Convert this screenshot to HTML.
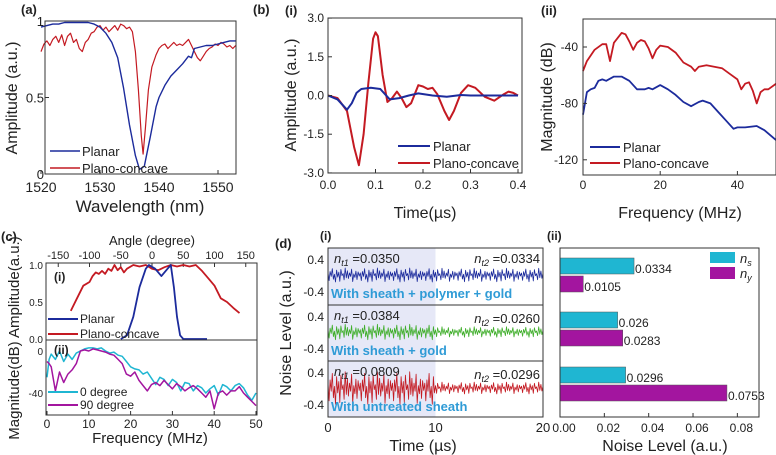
<!DOCTYPE html>
<html><head><meta charset="utf-8">
<style>
body{margin:0;background:#fff;}
svg{display:block;font-family:"Liberation Sans",Arial,sans-serif;}
</style></head>
<body>
<svg id="fig" width="776" height="455" viewBox="0 0 776 455" xmlns="http://www.w3.org/2000/svg">
<rect width="776" height="455" fill="#fff"/>
<g id="static"></g>
</svg>
<script>
// ---- data: panel (a)
const aWlBlue=[1520,1521,1522,1523,1524,1525,1526,1527,1528,1529,1530,1531,1532,1533,1534,1535,1536,1536.7,1537.5,1538.5,1539.5,1540,1541,1542,1543,1544,1545,1545.5,1546,1547,1548,1549,1550,1551,1552,1553];
const aPlanar=[0.96,0.97,0.98,0.98,0.99,0.99,0.99,0.99,0.99,0.98,0.96,0.92,0.86,0.76,0.56,0.32,0.12,0.03,0.05,0.24,0.44,0.5,0.58,0.64,0.68,0.72,0.77,0.76,0.82,0.83,0.84,0.84,0.85,0.86,0.87,0.87];
const aWlRed=[1520,1520.5,1521,1521.5,1522,1522.5,1523,1523.5,1524,1524.5,1525,1525.5,1526,1526.5,1527,1527.5,1528,1528.5,1529,1529.5,1530,1530.5,1531,1531.5,1532,1532.5,1533,1533.5,1534,1534.5,1535,1535.5,1536,1536.5,1537,1537.3,1537.7,1538.2,1538.8,1539.5,1540,1540.5,1541,1541.5,1542,1542.5,1543,1543.5,1544,1544.5,1545,1545.5,1546,1546.5,1547,1547.5,1548,1548.5,1549,1549.5,1550,1550.5,1551,1551.5,1552,1552.5,1553];
const aConcave=[0.8,0.85,0.87,0.84,0.88,0.9,0.86,0.91,0.84,0.9,0.92,0.86,0.88,0.82,0.8,0.86,0.88,0.92,0.93,0.96,0.97,0.94,0.96,0.93,0.95,0.97,0.94,0.98,0.97,0.95,0.96,0.93,0.8,0.55,0.25,0.13,0.3,0.55,0.7,0.78,0.82,0.84,0.85,0.82,0.84,0.86,0.84,0.85,0.84,0.86,0.88,0.84,0.8,0.76,0.74,0.77,0.8,0.82,0.83,0.85,0.84,0.86,0.85,0.83,0.84,0.82,0.84];
// ---- panel (b)(i)
const bTimeRed=[0,0.02,0.04,0.055,0.065,0.075,0.085,0.095,0.1,0.105,0.115,0.125,0.135,0.145,0.155,0.165,0.175,0.19,0.2,0.21,0.22,0.23,0.245,0.255,0.265,0.28,0.295,0.31,0.33,0.35,0.37,0.38,0.39,0.4];
const bConcave=[0,-0.1,-0.6,-2.0,-2.7,-1.5,0.5,2.2,2.45,2.3,0.8,-0.25,-0.1,0.15,-0.1,-0.45,-0.3,0.4,0.35,0.25,0.3,0.05,-0.6,-0.95,-0.6,0.1,0.4,0.3,-0.05,-0.2,0.05,0.15,0.1,0];
const bTimeBlue=[0,0.02,0.04,0.05,0.06,0.07,0.09,0.11,0.12,0.13,0.15,0.17,0.19,0.22,0.25,0.28,0.3,0.4];
const bPlanar=[0,-0.15,-0.55,-0.3,0.1,0.25,0.3,0.25,0.05,-0.15,-0.1,0,0.08,0,-0.05,0.02,0,0];
// ---- panel (b)(ii)
const bFreqRed=[0,1,3,5,6,7,8,10,11,12,13,14,15,16,17,18,19,20,22,24,26,28,29,30,32,34,36,38,40,41,42,43,44,45,46,47,48,50];
const bMagRed=[-57,-50,-42,-38,-38,-50,-37,-30,-31,-36,-42,-37,-35,-36,-41,-48,-42,-39,-40,-44,-51,-54,-57,-54,-53,-54,-55,-59,-63,-70,-66,-65,-71,-80,-72,-70,-70,-66];
const bFreqBlue=[0,1,2,3,4,5,6,8,10,12,14,16,17,18,20,22,24,26,28,30,31,33,35,37,39,40,42,45,47,50];
const bMagBlue=[-88,-72,-70,-69,-64,-63,-64,-61,-61,-64,-70,-70,-69,-70,-67,-70,-74,-79,-82,-79,-78,-80,-86,-92,-98,-97,-97,-96,-99,-106];
// ---- panel (c)(i)
const cAngRed=[-130,-120,-110,-100,-95,-90,-85,-80,-75,-70,-65,-60,-55,-50,-45,-40,-30,-20,-10,0,10,20,30,40,50,60,70,80,90,100,110,120,130,140];
const cAmpRed=[0.38,0.55,0.72,0.77,0.85,0.9,0.88,0.92,0.88,0.95,0.92,1.0,0.93,0.97,0.9,0.95,1.0,0.98,1.0,0.95,0.93,0.97,1.0,0.98,1.0,0.98,1.0,0.92,0.82,0.72,0.55,0.5,0.42,0.35];
const cAngBlue=[-50,-40,-30,-20,-10,-5,5,15,25,30,35,40,45,50,88];
const cAmpBlue=[0,0.05,0.3,0.7,0.95,1.0,0.95,0.85,0.95,1.0,0.7,0.3,0.05,0,0];
// ---- panel (c)(ii)
const cFreq=[0,0.5,1,2,3,4,5,6,7,8,9,10,11,12,13,14,15,16,17,18,19,20,21,22,23,24,25,26,27,28,29,30,31,32,33,34,35,36,37,38,39,40,41,42,43,44,45,46,47,48,49,50];
const c0deg=[-25,-8,-3,-8,0,-10,-3,-8,-2,0,2,3,3,2,3,0,-2,-1,-4,-5,-10,-15,-17,-18,-22,-20,-26,-32,-25,-27,-33,-27,-30,-38,-30,-31,-38,-33,-35,-40,-36,-33,-42,-32,-34,-38,-33,-31,-35,-42,-47,-40];
const c90deg=[-10,-12,-15,-38,-20,-30,-22,-18,-12,0,1,0,2,1,0,-1,-3,-4,-8,-12,-22,-24,-20,-28,-33,-38,-32,-30,-33,-28,-32,-36,-31,-34,-38,-35,-33,-36,-40,-44,-38,-55,-40,-38,-42,-38,-38,-34,-40,-44,-48,-52];
// ---- panel (d)(i)
const dLabels=["With sheath + polymer + gold","With sheath + gold","With untreated sheath"];
const dNt1=[0.0350,0.0384,0.0809];
const dNt2=[0.0334,0.0260,0.0296];
const dNoisePattern=[0.3,-0.8,0.5,-0.2,0.9,-0.6,0.1,-1,0.7,-0.3,0.4,-0.9,0.8,-0.1,0.2,-0.7,1,-0.4,0.6,-0.5,0.3,-0.2,0.85,-0.95,0.15,-0.35,0.55,-0.65,0.45,-0.15];
// ---- panel (d)(ii)
const dBarNs=[0.0334,0.026,0.0296];
const dBarNy=[0.0105,0.0283,0.0753];
const dBarTicks=["0.00","0.02","0.04","0.06","0.08"];

const NS="http://www.w3.org/2000/svg";
const root=document.getElementById('static');
function mk(tag,attrs,parent){const e=document.createElementNS(NS,tag);for(const k in attrs)e.setAttribute(k,attrs[k]);(parent||root).appendChild(e);return e;}
function txt(s,x,y,size,anchor,extra,parent){const e=mk('text',Object.assign({x:x,y:y,'font-size':size,'text-anchor':anchor||'start',fill:'#222'},extra||{}),parent);e.textContent=s;return e;}
function poly(xs,ys,fx,fy,color,w,parent){let d='';for(let i=0;i<xs.length;i++){d+=(i?'L':'M')+fx(xs[i]).toFixed(1)+','+fy(ys[i]).toFixed(1);}return mk('path',{d:d,fill:'none',stroke:color,'stroke-width':w,'stroke-linejoin':'round'},parent);}
const BLUE='#1c2b9c',RED='#c41a22',CYAN='#1fb6d2',MAG='#a3159f',GREEN='#3fae2a',CAP='#2f9bd6';

// ===== Panel (a)
{
const g=mk('g',{});
const fx=w=>41+(w-1520)*5.9, fy=v=>174-v*153;
txt('(a)',21,14,13,'start',{'font-weight':'bold'},g);
const p1=poly(aWlRed,aConcave,fx,fy,RED,1.2,g);
const p2=poly(aWlBlue,aPlanar,fx,fy,BLUE,1.4,g);
mk('rect',{x:45,y:21,width:191,height:153,fill:'none',stroke:'#333','stroke-width':1},g);
[[1,'1'],[0.5,'0.5'],[0,'0']].forEach(t=>{txt(t[1],44,fy(t[0])+5,13,'end',{},g);mk('line',{x1:45,x2:49,y1:fy(t[0]),y2:fy(t[0]),stroke:'#333'},g);});
[1520,1530,1540,1550].forEach(t=>{txt(String(t),fx(t),192,14,'middle',{},g);mk('line',{x1:fx(t),x2:fx(t),y1:174,y2:170,stroke:'#333'},g);});
txt('Wavelength  (nm)',140,212,17,'middle',{},g);
txt('Amplitude (a.u.)',0,0,16,'middle',{transform:'translate(17,98) rotate(-90)'},g);
mk('line',{x1:50,x2:80,y1:151,y2:151,stroke:BLUE,'stroke-width':1.5},g);txt('Planar',82,156,13,'start',{},g);
mk('line',{x1:50,x2:80,y1:168,y2:168,stroke:RED,'stroke-width':1.5},g);txt('Plano-concave',82,173,13,'start',{},g);
}
// ===== Panel (b)(i)
{
const g=mk('g',{});
const fx=t=>328+t*475, fy=v=>95.5-v*25.8;
txt('(b)',253,14,13,'start',{'font-weight':'bold'},g);txt('(i)',285,15,13,'start',{'font-weight':'bold'},g);
const p1=poly(bTimeRed,bConcave,fx,fy,RED,2,g);
const p2=poly(bTimeBlue,bPlanar,fx,fy,BLUE,2,g);
mk('rect',{x:328,y:18,width:194,height:155,fill:'none',stroke:'#333'},g);
[3,1.5,0,-1.5,-3].forEach(t=>{txt(t.toFixed(1),324,fy(t)+4,12,'end',{},g);mk('line',{x1:328,x2:332,y1:fy(t),y2:fy(t),stroke:'#333'},g);});
[0,0.1,0.2,0.3,0.4].forEach(t=>{txt(t.toFixed(1),fx(t),189,12,'middle',{},g);mk('line',{x1:fx(t),x2:fx(t),y1:173,y2:169,stroke:'#333'},g);});
txt('Time(µs)',425,218,16,'middle',{},g);
txt('Amplitude (a.u.)',0,0,16,'middle',{transform:'translate(296,95) rotate(-90)'},g);
mk('line',{x1:398,x2:430,y1:146,y2:146,stroke:BLUE,'stroke-width':2},g);txt('Planar',433,151,13,'start',{},g);
mk('line',{x1:398,x2:430,y1:163,y2:163,stroke:RED,'stroke-width':2},g);txt('Plano-concave',433,168,13,'start',{},g);
}
// ===== Panel (b)(ii)
{
const g=mk('g',{});
const fx=f=>583+f*3.86, fy=v=>47+(-40-v)*1.41;
txt('(ii)',541,15,13,'start',{'font-weight':'bold'},g);
const p1=poly(bFreqRed,bMagRed,fx,fy,RED,1.8,g);
const p2=poly(bFreqBlue,bMagBlue,fx,fy,BLUE,1.8,g);
mk('rect',{x:583,y:19,width:193,height:156,fill:'none',stroke:'#333'},g);
[-40,-80,-120].forEach(t=>{txt(String(t),578,fy(t)+4,12,'end',{},g);mk('line',{x1:583,x2:587,y1:fy(t),y2:fy(t),stroke:'#333'},g);});
[0,20,40].forEach(t=>{txt(String(t),fx(t),189,12,'middle',{},g);mk('line',{x1:fx(t),x2:fx(t),y1:175,y2:171,stroke:'#333'},g);});
txt('Frequency (MHz)',680,218,16,'middle',{},g);
txt('Magnitude (dB)',0,0,16,'middle',{transform:'translate(552,97) rotate(-90)'},g);
mk('line',{x1:590,x2:620,y1:147,y2:147,stroke:BLUE,'stroke-width':2},g);txt('Planar',623,152,13,'start',{},g);
mk('line',{x1:590,x2:620,y1:163,y2:163,stroke:RED,'stroke-width':2},g);txt('Plano-concave',623,168,13,'start',{},g);
}
// ===== Panel (c)
{
const g=mk('g',{});
const ax=a=>152+a*0.625, ay=v=>339-v*74;
const fx=f=>47+f*4.18, fy=v=>351-v*1.05;
txt('(c)',1,241,13,'start',{'font-weight':'bold'},g);
txt('Angle (degree)',152,245,13,'middle',{},g);
[-150,-100,-50,0,50,100,150].forEach(t=>{txt(String(t),ax(t),259,11,'middle',{},g);mk('line',{x1:ax(t),x2:ax(t),y1:263,y2:267,stroke:'#333'},g);});
const p1=poly(cAngRed,cAmpRed,ax,ay,RED,1.8,g);
const p2=poly(cAngBlue,cAmpBlue,ax,ay,BLUE,1.8,g);
const p3=poly(cFreq,c0deg,fx,fy,CYAN,1.5,g);
const p4=poly(cFreq,c90deg,fx,fy,MAG,1.5,g);
mk('rect',{x:46,y:263,width:211,height:152,fill:'none',stroke:'#333'},g);
mk('line',{x1:46,x2:257,y1:340,y2:340,stroke:'#333'},g);
[[1,'1.0'],[0.5,'0.5'],[0,'0.0']].forEach(t=>{txt(t[1],43,ay(t[0])+4,10,'end',{},g);});
[0,-40].forEach(t=>{txt(String(t),43,fy(t)+4,10,'end',{},g);});
[0,10,20,30,40,50].forEach(t=>{txt(String(t),fx(t),428,12,'middle',{},g);mk('line',{x1:fx(t),x2:fx(t),y1:415,y2:411,stroke:'#333'},g);});
txt('(i)',54,281,12,'start',{'font-weight':'bold'},g);txt('(ii)',54,354,12,'start',{'font-weight':'bold'},g);
txt('Frequency (MHz)',150,443,15,'middle',{},g);
txt('Magnitude(dB) Amplitude(a.u.)',0,0,15,'middle',{transform:'translate(19,338) rotate(-90)'},g);
mk('line',{x1:48,x2:78,y1:319,y2:319,stroke:BLUE,'stroke-width':2},g);txt('Planar',80,323,12,'start',{},g);
mk('line',{x1:48,x2:78,y1:334,y2:334,stroke:RED,'stroke-width':2},g);txt('Plano-concave',80,338,12,'start',{},g);
mk('line',{x1:48,x2:78,y1:392,y2:392,stroke:CYAN,'stroke-width':2},g);txt('0 degree',80,396,12,'start',{},g);
mk('line',{x1:48,x2:78,y1:405,y2:405,stroke:MAG,'stroke-width':2},g);txt('90 degree',80,409,12,'start',{},g);
}
// ===== Panel (d)(i)
{
const g=mk('g',{});
const fx=t=>328+t*10.75;
const tops=[248,305,361], colors=[BLUE,GREEN,RED];
txt('(d)',275,248,13,'start',{'font-weight':'bold'},g);txt('(i)',320,240,12,'start',{'font-weight':'bold'},g);
mk('rect',{x:328,y:248,width:fx(10)-328,height:169,fill:'#e6e8f7'},g);
for(let k=0;k<3;k++){
  const top=tops[k],mid=top+27;
  const yv=v=>mid-v*40;
  const ts=[],vs=[];
  for(let i=0;i<=200;i++){const t=i*0.1;const n=t<10?dNt1[k]:dNt2[k];ts.push(t);vs.push(dNoisePattern[i%dNoisePattern.length]*n*5);}
  const p=poly(ts,vs,fx,yv,colors[k],0.8,g);
  
  
  const y04=top+12,ym04=top+44;
  txt('0.4',324,y04+4,12,'end',{},g);txt('-0.4',324,ym04+4,12,'end',{},g);
  const a=txt('',334,top+15,13,'start',{},g);
  a.innerHTML='<tspan font-style="italic">n</tspan><tspan font-style="italic" font-size="9" dy="3">t1</tspan><tspan dy="-3"> =</tspan>'+dNt1[k].toFixed(4);
  const b=txt('',540,top+15+(k?3:0),13,'end',{},g);
  b.innerHTML='<tspan font-style="italic">n</tspan><tspan font-style="italic" font-size="9" dy="3">t2</tspan><tspan dy="-3"> =</tspan>'+dNt2[k].toFixed(4);
  txt(dLabels[k],331,top+50,13,'start',{'font-weight':'bold',fill:CAP},g);
  if(k>0)mk('line',{x1:328,x2:543,y1:top,y2:top,stroke:'#333'},g);
}
mk('rect',{x:328,y:248,width:215,height:169,fill:'none',stroke:'#333'},g);
[0,10,20].forEach(t=>{txt(String(t),fx(t),432,13,'middle',{},g);});
txt('Time (µs)',423,451,16,'middle',{},g);
txt('Noise Level (a.u.)',0,0,16,'middle',{transform:'translate(291,333) rotate(-90)'},g);
}
// ===== Panel (d)(ii)
{
const g=mk('g',{});
const fx=v=>560+v*2217;
const nsY=[258,312,367],nyY=[276,330,385];
txt('(ii)',547,240,12,'start',{'font-weight':'bold'},g);
for(let k=0;k<3;k++){
  const r1=mk('rect',{x:560,y:nsY[k],width:fx(dBarNs[k])-560,height:16,fill:CYAN,stroke:'#555','stroke-width':0.5},g);
  
  
  const r2=mk('rect',{x:560,y:nyY[k],width:fx(dBarNy[k])-560,height:16,fill:MAG,stroke:'#555','stroke-width':0.5},g);
  
  
  txt(String(dBarNs[k]),fx(dBarNs[k])+1,nsY[k]+15,12,'start',{},g);
  txt(String(dBarNy[k]),fx(dBarNy[k])+1,nyY[k]+15,12,'start',{},g);
}
mk('rect',{x:560,y:248,width:199,height:169,fill:'none',stroke:'#333'},g);
dBarTicks.forEach(t=>{const v=parseFloat(t);txt(t,fx(v)+4,432,12,'middle',{},g);mk('line',{x1:fx(v),x2:fx(v),y1:417,y2:413,stroke:'#333'},g);});
txt('Noise Level (a.u.)',665,451,16,'middle',{},g);
mk('rect',{x:710,y:252,width:25,height:11,fill:CYAN},g);
const l1=txt('',740,263,13,'start',{},g);l1.innerHTML='<tspan font-style="italic">n</tspan><tspan font-style="italic" font-size="9" dy="3">s</tspan>';
mk('rect',{x:710,y:267,width:25,height:12,fill:MAG},g);
const l2=txt('',740,278,13,'start',{},g);l2.innerHTML='<tspan font-style="italic">n</tspan><tspan font-style="italic" font-size="9" dy="3">y</tspan>';
}
</script>
</body></html>
